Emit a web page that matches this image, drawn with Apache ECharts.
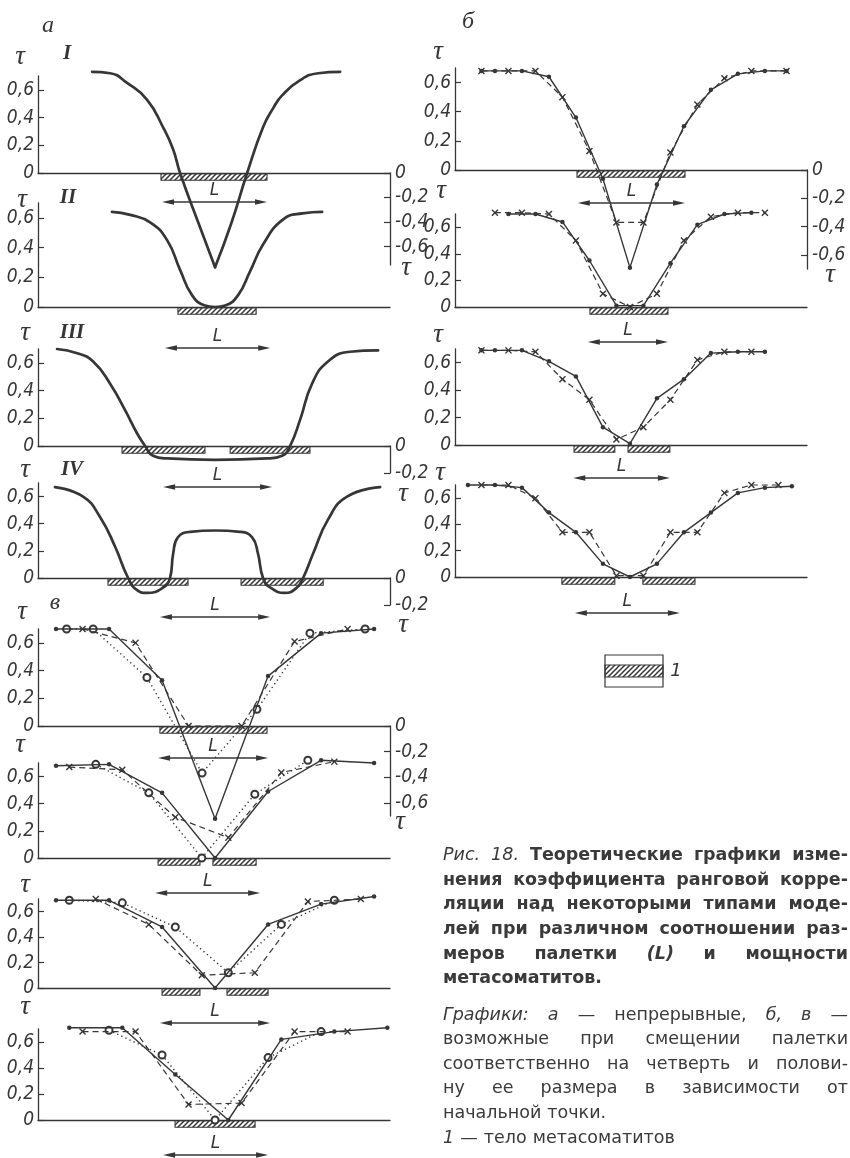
<!DOCTYPE html>
<html><head><meta charset="utf-8">
<script src="https://cdn.jsdelivr.net/npm/echarts@6/dist/echarts.min.js"></script>
<style>html,body{margin:0;padding:0;background:#fff}#c{width:850px;height:1158px}</style>
</head><body><div id="c"></div>
<script>
// ---------------- DATA (x in units of a quarter palette, 0 = model centre; y = tau) ----------------
const yTicks = [0, 0.2, 0.4, 0.6];
const rTicksLong = [0, -0.2, -0.4, -0.6];
const rTicksShort = [0, -0.2];

// а – continuous curves
const aI_left  = [[-4.64,0.73],[-3.96,0.72],[-3.32,0.65],[-2.57,0.53],[-1.96,0.33],[-1.58,0.17],[-1.32,0],[-0.57,-0.39],[0,-0.68]];
const aI_right = [[0,-0.68],[0.6,-0.37],[1.21,0],[1.81,0.33],[2.2,0.47],[2.53,0.56],[3.21,0.67],[3.9,0.72],[4.72,0.73]];
const aII  = [[-3.89,0.64],[-3.2,0.62],[-2.45,0.57],[-1.81,0.45],[-1.32,0.25],[-0.87,0.08],[-0.38,0.01],[0,0],[0.38,0.01],[0.87,0.08],[1.32,0.24],[1.81,0.42],[2.57,0.59],[3.3,0.63],[4.04,0.64]];
const aIII = [[-5.96,0.70],[-5.2,0.67],[-4.6,0.61],[-3.96,0.45],[-3.4,0.26],[-2.94,0.09],[-2.64,0],[-2.34,-0.07],[-1.81,-0.09],[0,-0.1],[1.96,-0.09],[2.53,-0.07],[2.83,0],[3.21,0.19],[3.66,0.45],[4.26,0.61],[5.09,0.68],[6.15,0.69]];
const aIV  = [[-6.04,0.67],[-4.98,0.6],[-4.34,0.45],[-3.77,0.23],[-3.28,0],[-2.94,-0.09],[-2.57,-0.11],[-1.96,-0.07],[-1.7,0],[-1.58,0.18],[-1.4,0.3],[-0.94,0.34],[0,0.35],[0.94,0.34],[1.4,0.3],[1.62,0.18],[1.81,0],[2.08,-0.07],[2.64,-0.11],[3.09,-0.07],[3.32,0],[3.7,0.18],[4.26,0.43],[4.98,0.6],[6.23,0.67]];

// б – palette shifted by a quarter
const b1_solid  = [[-5.5,0.68],[-5,0.68],[-4,0.68],[-3,0.64],[-2,0.36],[-1,-0.06],[0,-0.67],[1,-0.1],[2,0.3],[3,0.55],[4,0.66],[5,0.68],[5.8,0.68]];
const b1_dashed = [[-5.5,0.68],[-4.5,0.68],[-3.5,0.68],[-2.5,0.5],[-1.5,0.13],[-0.5,-0.36],[0.5,-0.36],[1.5,0.12],[2.5,0.45],[3.5,0.63],[4.5,0.68],[5.8,0.68]];
const b2_solid  = [[-4.5,0.7],[-3.5,0.7],[-2.5,0.64],[-1.5,0.35],[-0.5,0.01],[0.5,0.01],[1.5,0.33],[2.5,0.62],[3.5,0.7],[4.5,0.71]];
const b2_dashed = [[-5,0.71],[-4,0.71],[-3,0.7],[-2,0.5],[-1,0.1],[0,0],[1,0.1],[2,0.5],[3,0.68],[4,0.71],[5,0.71]];
const b3_solid  = [[-5.5,0.69],[-5,0.69],[-4,0.69],[-3,0.61],[-2,0.5],[-1,0.13],[0,0.01],[1,0.34],[2,0.48],[3,0.67],[4,0.68],[5,0.68]];
const b3_dashed = [[-5.5,0.69],[-4.5,0.69],[-3.5,0.68],[-2.5,0.48],[-1.5,0.33],[-0.5,0.04],[0.5,0.13],[1.5,0.33],[2.5,0.62],[3.5,0.68],[4.5,0.68]];
const b4_solid  = [[-6,0.7],[-5,0.7],[-4,0.68],[-3,0.49],[-2,0.34],[-1,0.1],[0,0],[1,0.1],[2,0.34],[3,0.49],[4,0.64],[5,0.68],[6,0.69]];
const b4_dashed = [[-5.5,0.7],[-4.5,0.7],[-3.5,0.6],[-2.5,0.34],[-1.5,0.34],[-0.5,0.01],[0.5,0.01],[1.5,0.34],[2.5,0.34],[3.5,0.64],[4.5,0.7],[5.5,0.7]];

// в – palette shifted by a half
const v1_solid  = [[-6,0.7],[-4,0.7],[-2,0.33],[0,-0.67],[2,0.36],[4,0.67],[6,0.7]];
const v1_dashed = [[-5,0.7],[-3,0.6],[-1,0],[1,0],[3,0.61],[5,0.7]];
const v1_dotted = [[-5.6,0.7],[-4.6,0.7],[-2.57,0.35],[-0.49,-0.34],[1.58,0.12],[3.58,0.67],[5.66,0.7]];
const v2_solid  = [[-6,0.68],[-4,0.69],[-2,0.48],[0,0],[2,0.49],[4,0.72],[6,0.7]];
const v2_dashed = [[-5.5,0.67],[-3.5,0.65],[-1.5,0.3],[0.5,0.15],[2.5,0.63],[4.5,0.71]];
const v2_dotted = [[-4.5,0.69],[-2.5,0.48],[-0.5,0],[1.5,0.47],[3.5,0.72]];
const v3_solid  = [[-6,0.69],[-4,0.69],[-2,0.48],[0,0],[2,0.5],[4,0.66],[6,0.72]];
const v3_dashed = [[-4.5,0.7],[-2.5,0.5],[-0.5,0.1],[1.5,0.12],[3.5,0.68],[5.5,0.7]];
const v3_dotted = [[-5.5,0.69],[-3.5,0.67],[-1.5,0.48],[0.5,0.12],[2.5,0.5],[4.5,0.69]];
const v4_solid  = [[-5.5,0.71],[-3.5,0.71],[-1.5,0.35],[0.5,0],[2.5,0.62],[4.5,0.68],[6.5,0.71]];
const v4_dashed = [[-5,0.68],[-3,0.68],[-1,0.12],[1,0.13],[3,0.68],[5,0.68]];
const v4_dotted = [[-4,0.69],[-2,0.5],[0,0],[2,0.48],[4,0.68]];

// metasomatite bodies [from, to]
const aI_bodies = [[-2.04,1.96]];
const aII_bodies = [[-1.4,1.55]];
const aIII_bodies = [[-3.51,-0.38],[0.57,3.58]];
const aIV_bodies = [[-4.04,-1.02],[0.98,4.08]];
const v1_bodies = [[-2.08,1.96]];
const v2_bodies = [[-2.15,-0.57],[-0.08,1.55]];
const v3_bodies = [[-2.0,-0.57],[0.45,2.0]];
const v4_bodies = [[-1.51,1.51]];
const b1_bodies = [[-1.96,2.04]];
const b2_bodies = [[-1.48,1.41]];
const b3_bodies = [[-2.07,-0.56],[-0.07,1.48]];
const b4_bodies = [[-2.52,-0.56],[0.48,2.41]];

// palette extent L [from, to]
const aI_L = [-2,1.96], aII_L = [-1.89,2.08], aIII_L = [-1.96,2.15], aIV_L = [-2.08,2.08];
const v1_L = [-2.15,2.0], v2_L = [-2.26,1.7], v3_L = [-2.08,2.08], v4_L = [-1.96,2.0];
const b1_L = [-1.93,2.04], b2_L = [-1.56,1.41], b3_L = [-2.1,1.48], b4_L = [-2.04,1.85];

// ---------------- LAYOUT & STYLE ----------------
const INK = '#363636';
const NARROW = "'Liberation Sans Narrow','DejaVu Sans Condensed','Liberation Sans',sans-serif";
const SERIF = "'Liberation Serif','DejaVu Serif',serif";
const SANS = "'DejaVu Sans','Liberation Sans',sans-serif";
const XSYM = 'path://M0,1.4L1.4,0L5,3.6L8.6,0L10,1.4L6.4,5L10,8.6L8.6,10L5,6.4L1.4,10L0,8.6L3.6,5Z';

const COLS = {
  L: {left: 38, width: 352, xMin: -6.68, xMax: 6.6},
  R: {left: 455, width: 352, xMin: -6.48, xMax: 6.56}
};
const panels = [
  {col:'L', top:76,  base:173, curves:[[aI_left,'thick'],[aI_right,'thick']], bodies:aI_bodies, pal:aI_L, off:29},
  {col:'L', top:203, base:307, curves:[[aII,'thick']], bodies:aII_bodies, pal:aII_L, off:41},
  {col:'L', top:349, base:446, curves:[[aIII,'thick']], bodies:aIII_bodies, pal:aIII_L, off:41},
  {col:'L', top:483, base:578, curves:[[aIV,'thick']], bodies:aIV_bodies, pal:aIV_L, off:39},
  {col:'L', top:629, base:726, curves:[[v1_dotted,'dotted'],[v1_dashed,'dashed'],[v1_solid,'solid']], bodies:v1_bodies, pal:v1_L, off:32},
  {col:'L', top:763, base:858, curves:[[v2_dotted,'dotted'],[v2_dashed,'dashed'],[v2_solid,'solid']], bodies:v2_bodies, pal:v2_L, off:35},
  {col:'L', top:899, base:988, curves:[[v3_dotted,'dotted'],[v3_dashed,'dashed'],[v3_solid,'solid']], bodies:v3_bodies, pal:v3_L, off:35},
  {col:'L', top:1029,base:1120,curves:[[v4_dotted,'dotted'],[v4_dashed,'dashed'],[v4_solid,'solid']], bodies:v4_bodies, pal:v4_L, off:35},
  {col:'R', top:68,  base:170, curves:[[b1_dashed,'dashed'],[b1_solid,'solid']], bodies:b1_bodies, pal:b1_L, off:33},
  {col:'R', top:214, base:307, curves:[[b2_dashed,'dashed'],[b2_solid,'solid']], bodies:b2_bodies, pal:b2_L, off:35},
  {col:'R', top:349, base:445, curves:[[b3_dashed,'dashed'],[b3_solid,'solid']], bodies:b3_bodies, pal:b3_L, off:33},
  {col:'R', top:485, base:577, curves:[[b4_dashed,'dashed'],[b4_solid,'solid']], bodies:b4_bodies, pal:b4_L, off:36}
];
const rightAxes = [
  {right:390, top:173, height:92, min:-0.75, ticks:rTicksLong},
  {right:390, top:446, height:27, min:-0.2, ticks:rTicksShort},
  {right:390, top:578, height:27, min:-0.2, ticks:rTicksShort},
  {right:390, top:726, height:90, min:-0.7, ticks:rTicksLong},
  {right:807, top:170, height:99, min:-0.7, ticks:rTicksLong}
];

// hatch pattern
const pc = document.createElement('canvas'); pc.width = 5; pc.height = 5;
(function(){ const g = pc.getContext('2d'); g.strokeStyle = INK; g.lineWidth = 1.5; g.beginPath();
  g.moveTo(-1,6); g.lineTo(6,-1); g.moveTo(-1,1); g.lineTo(1,-1); g.moveTo(4,6); g.lineTo(6,4); g.stroke(); })();
const HATCH = {image: pc, repeat: 'repeat'};

const fmt = v => Math.abs(v) < 1e-9 ? '0' : (v < 0 ? '-' : '') + Math.abs(v).toFixed(1).replace('.', ',');
const LABEL = {fontFamily: NARROW, fontStyle: 'italic', fontSize: 19, color: INK};
const AXLINE = {show: true, onZero: false, lineStyle: {color: INK, width: 1.3}};

function makeLine(data, kind, gi) {
  const base = {type:'line', xAxisIndex:gi, yAxisIndex:gi, data, clip:false, silent:true, animation:false, z:4, showAllSymbol:true};
  if (kind === 'thick') return Object.assign(base, {symbol:'none', smooth:0.5, lineStyle:{color:INK, width:2.7, cap:'round', join:'round'}});
  if (kind === 'solid') return Object.assign(base, {symbol:'circle', symbolSize:4.5, itemStyle:{color:INK}, lineStyle:{color:INK, width:1.4}, z:6});
  if (kind === 'dashed') return Object.assign(base, {symbol:XSYM, symbolSize:7, itemStyle:{color:INK}, lineStyle:{color:INK, width:1.2, type:[6,4]}, z:5});
  return Object.assign(base, {symbol:'emptyCircle', symbolSize:7, itemStyle:{color:INK, borderWidth:1.1}, lineStyle:{color:INK, width:1.4, type:[1.3,3.2]}});
}
function bodySeries(bodies, gi) {
  return {type:'custom', xAxisIndex:gi, yAxisIndex:gi, data:bodies, encode:{x:[0,1]}, clip:false, silent:true, animation:false, z:3,
    renderItem(params, api) {
      const a = api.coord([api.value(0), 0]), b = api.coord([api.value(1), 0]);
      return {type:'rect', shape:{x:a[0], y:a[1] + 0.8, width:b[0] - a[0], height:6.5},
        style:{fill:HATCH, stroke:INK, lineWidth:1.1}};
    }};
}
function arrowSeries(pal, gi, off) {
  return {type:'custom', xAxisIndex:gi, yAxisIndex:gi, data:[pal], encode:{x:[0,1]}, clip:false, silent:true, animation:false, z:3,
    renderItem(params, api) {
      const a = api.coord([api.value(0), 0]), b = api.coord([api.value(1), 0]);
      const y = a[1] + off, x0 = a[0], x1 = b[0];
      return {type:'group', children:[
        {type:'line', shape:{x1:x0 + 4, y1:y, x2:x1 - 4, y2:y}, style:{stroke:INK, lineWidth:1.3}},
        {type:'polygon', shape:{points:[[x0,y],[x0 + 12,y - 2.8],[x0 + 12,y + 2.8]]}, style:{fill:INK}},
        {type:'polygon', shape:{points:[[x1,y],[x1 - 12,y - 2.8],[x1 - 12,y + 2.8]]}, style:{fill:INK}},
        {type:'text', style:{text:'L', x:(x0 + x1) / 2, y:y - 11, align:'center', verticalAlign:'middle',
          textAlign:'center', textVerticalAlign:'middle', font:'italic 17px ' + SANS, fill:INK}}
      ]};
    }};
}

const grid = [], xAxis = [], yAxis = [], series = [];
panels.forEach(p => {
  const c = COLS[p.col], gi = grid.length;
  grid.push({left:c.left, top:p.top, width:c.width, height:p.base - p.top, containLabel:false, outerBoundsMode:'none'});
  xAxis.push({type:'value', gridIndex:gi, min:c.xMin, max:c.xMax, axisLine:AXLINE, axisTick:{show:false}, axisLabel:{show:false}, splitLine:{show:false}});
  yAxis.push({type:'value', gridIndex:gi, min:0, max:0.7, axisLine:AXLINE,
    axisTick:{show:true, inside:true, length:6, lineStyle:{color:INK, width:1.2}, customValues:yTicks},
    axisLabel:Object.assign({customValues:yTicks, formatter:fmt, margin:4}, LABEL), splitLine:{show:false}});
  p.curves.forEach(([d, k]) => series.push(makeLine(d, k, gi)));
  series.push(bodySeries(p.bodies, gi));
  series.push(arrowSeries(p.pal, gi, p.off));
});
rightAxes.forEach(r => {
  const gi = grid.length;
  grid.push({left:r.right - 10, top:r.top, width:10, height:r.height, containLabel:false, outerBoundsMode:'none'});
  xAxis.push({type:'value', gridIndex:gi, min:0, max:1, show:false});
  yAxis.push({type:'value', gridIndex:gi, position:'right', min:r.min, max:0, axisLine:AXLINE,
    axisTick:{show:true, inside:true, length:6, lineStyle:{color:INK, width:1.2}, customValues:r.ticks},
    axisLabel:Object.assign({customValues:r.ticks, formatter:fmt, margin:5}, LABEL), splitLine:{show:false}});
});

// ---------------- texts ----------------
const TAU = 'τ';
const marks = [
  ['а',48,26,'let'],['б',468,22,'let'],['в',55,603,'let'],
  ['I',67,54,'rom'],['II',68,198,'rom'],['III',72,333,'rom'],['IV',72,470,'rom'],
  [TAU,20,57,'tau'],[TAU,22,200,'tau'],[TAU,25,333,'tau'],[TAU,25,470,'tau'],[TAU,22,612,'tau'],[TAU,20,745,'tau'],[TAU,25,885,'tau'],[TAU,25,1007,'tau'],
  [TAU,438,52,'tau'],[TAU,441,191,'tau'],[TAU,438,335,'tau'],[TAU,440,473,'tau'],
  [TAU,406,268,'tau'],[TAU,403,494,'tau'],[TAU,403,625,'tau'],[TAU,400,822,'tau'],[TAU,830,275,'tau'],
  ['1',676,671,'leg']
];
const markFont = {let:'italic 24px ' + SERIF, rom:'italic bold 21px ' + SERIF, tau:'italic 27px ' + SERIF, leg:'italic 18px ' + SANS};
const elements = marks.map(([t, x, y, k]) => ({type:'text', silent:true,
  style:{text:t, x, y, font:markFont[k], fill:INK, align:'center', verticalAlign:'middle', textAlign:'center', textVerticalAlign:'middle'}}));

// legend symbol
elements.push({type:'rect', silent:true, shape:{x:605, y:655, width:58, height:32}, style:{fill:'#fff', stroke:INK, lineWidth:1.2}});
elements.push({type:'rect', silent:true, shape:{x:605, y:665, width:58, height:12}, style:{fill:HATCH, stroke:INK, lineWidth:1.1}});

// caption (justified)
const CAP_X = 443, CAP_W = 405;
const captionLines = [
  {y:855, j:1, w:[['Рис.','i'],['18.','i'],['Теоретические','b'],['графики','b'],['изме-','b']]},
  {y:880, j:1, w:[['нения','b'],['коэффициента','b'],['ранговой','b'],['корре-','b']]},
  {y:904, j:1, w:[['ляции','b'],['над','b'],['некоторыми','b'],['типами','b'],['моде-','b']]},
  {y:929, j:1, w:[['лей','b'],['при','b'],['различном','b'],['соотношении','b'],['раз-','b']]},
  {y:954, j:1, w:[['меров','b'],['палетки','b'],['(L)','bi'],['и','b'],['мощности','b']]},
  {y:978, j:0, w:[['метасоматитов.','b']]},
  {y:1015, j:1, w:[['Графики:','i'],['а','i'],['—','r'],['непрерывные,','r'],['б,','i'],['в','i'],['—','r']]},
  {y:1039, j:1, w:[['возможные','r'],['при','r'],['смещении','r'],['палетки','r']]},
  {y:1064, j:1, w:[['соответственно','r'],['на','r'],['четверть','r'],['и','r'],['полови-','r']]},
  {y:1088, j:1, w:[['ну','r'],['ее','r'],['размера','r'],['в','r'],['зависимости','r'],['от','r']]},
  {y:1113, j:0, w:[['начальной','r'],['точки.','r']]},
  {y:1138, j:0, w:[['1','i'],['—','r'],['тело','r'],['метасоматитов','r']]}
];
const mctx = document.createElement('canvas').getContext('2d');
const capFont = (k, s) => ({b:'bold ', i:'italic ', r:'', bi:'italic bold '}[k]) + s + 'px ' + SANS;
const measure = (t, f) => { mctx.font = f; return mctx.measureText(t).width; };
captionLines.forEach(line => {
  let s = 17.5, widths, gap;
  for (;;) {
    widths = line.w.map(([t, k]) => measure(t, capFont(k, s)));
    const tot = widths.reduce((a, b) => a + b, 0);
    const sp = measure(' ', capFont('r', s));
    gap = line.j && line.w.length > 1 ? (CAP_W - tot) / (line.w.length - 1) : sp * 1.1;
    if (gap >= sp * 0.8 || s < 12) break;
    s -= 0.25;
  }
  let x = CAP_X;
  line.w.forEach(([t, k], i) => {
    elements.push({type:'text', silent:true, style:{text:t, x, y:line.y, font:capFont(k, s), fill:'#3a3a3a',
      align:'left', verticalAlign:'middle', textAlign:'left', textVerticalAlign:'middle'}});
    x += widths[i] + gap;
  });
});

const chart = echarts.init(document.getElementById('c'), null, {renderer:'canvas', width:850, height:1158});
chart.setOption({
  animation:false, backgroundColor:'#ffffff',
  grid, xAxis, yAxis, series,
  graphic:{elements}
});
</script></body></html>
